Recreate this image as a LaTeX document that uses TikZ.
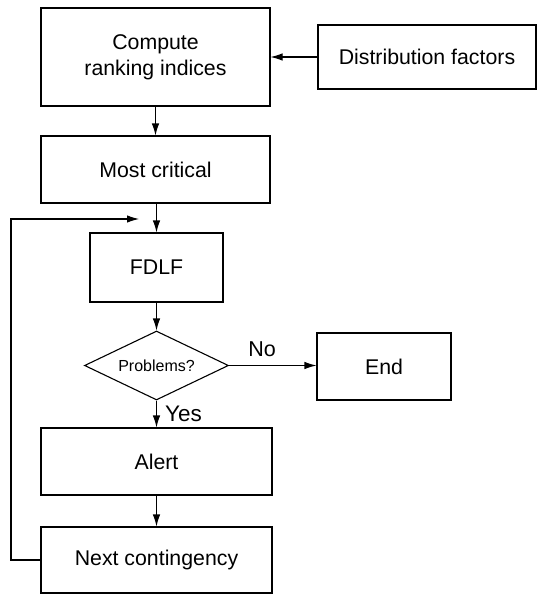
\documentclass[tikz,border=0pt]{standalone}
\usepackage{fontspec}
\setmainfont{Liberation Sans}
\usetikzlibrary{shapes.geometric,arrows.meta}
\begin{document}
\begin{tikzpicture}[x=1pt,y=-1pt,
  every node/.style={font=\fontsize{21.3}{26}\selectfont},
  box/.style={draw=black,line width=1.1pt,rectangle,inner sep=0pt,align=center},
  decision/.style={draw=black,line width=1.1pt,diamond,inner sep=0pt,aspect=2.09,
     minimum width=144pt,minimum height=69pt,font=\fontsize{16}{19}\selectfont},
  arr/.style={line width=1.1pt,-{Latex[length=12pt,width=7.5pt]}},
  lbl/.style={inner sep=0pt,font=\fontsize{21.5}{24}\selectfont}]
\useasboundingbox (0,0) rectangle (537,594);

\node[box,minimum width=229pt,minimum height=98pt] (compute) at (155.5,57) {Compute\\ranking indices};
\node[box,minimum width=218pt,minimum height=64pt] (dist) at (427,57) {Distribution factors};
\node[box,minimum width=229pt,minimum height=67pt] (crit) at (155.5,169.5) {Most critical};
\node[box,minimum width=133pt,minimum height=69pt] (fdlf) at (156.5,267.5) {FDLF};
\node[decision] (prob) at (156.5,365.5) {Problems?};
\node[box,minimum width=134pt,minimum height=67pt] (end) at (384,366.5) {End};
\node[box,minimum width=231pt,minimum height=67pt] (alert) at (156.5,461.5) {Alert};
\node[box,minimum width=231pt,minimum height=66pt] (next) at (156.5,560) {Next contingency};

\node[lbl] (no) at (262,349) {No};
\node[lbl,font=\fontsize{22.5}{26}\selectfont] (yes) at (183.5,414) {Yes};

\coordinate (loopL) at (11,219);
\coordinate (loopT) at (139,219);

\draw[arr] (dist.west) -- (compute.east |- dist.west);
\draw[arr] (compute.south -| crit.north) -- (crit.north);
\draw[arr] (crit.south -| fdlf.north) -- (fdlf.north);
\draw[arr] (fdlf.south) -- (prob.north);
\draw[arr] (prob.east) -- (end.west |- prob.east);
\draw[arr] (prob.south) -- (alert.north);
\draw[arr] (alert.south) -- (next.north);
\draw[arr] (next.west) -- (next.west -| loopL) -- (loopL) -- (loopT);
\end{tikzpicture}
\end{document}
